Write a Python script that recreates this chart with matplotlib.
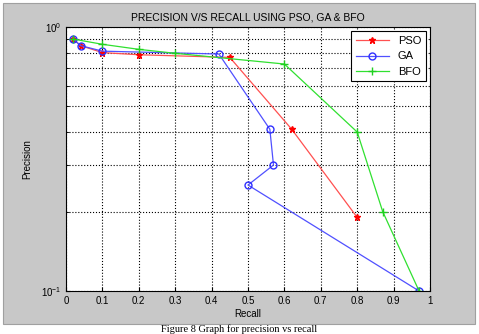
import matplotlib.pyplot as plt
from matplotlib.patches import Rectangle
from matplotlib.ticker import LogLocator, NullFormatter

plt.rcParams['font.family'] = ['Liberation Sans', 'DejaVu Sans']

# Données
recall_pso = [0.02, 0.04, 0.1, 0.2, 0.45, 0.62, 0.8]
prec_pso = [0.9, 0.85, 0.8, 0.785, 0.767, 0.41, 0.19]

recall_ga = [0.02, 0.04, 0.1, 0.42, 0.56, 0.57, 0.5, 0.97]
prec_ga = [0.9, 0.85, 0.81, 0.79, 0.41, 0.30, 0.252, 0.1]

recall_bfo = [0.02, 0.1, 0.2, 0.3, 0.6, 0.8, 0.87, 0.97]
prec_bfo = [0.9, 0.86, 0.823, 0.795, 0.724, 0.40, 0.2, 0.1]

xticks = [0, 0.1, 0.2, 0.3, 0.4, 0.5, 0.6, 0.7, 0.8, 0.9, 1]

fig = plt.figure(figsize=(4.79, 3.34), dpi=100)
fig.patch.set_facecolor('white')
# fond gris façon MATLAB
fig.patches.append(Rectangle((3 / 479, 1 - 324 / 334), 472 / 479, 321 / 334,
                             transform=fig.transFigure, facecolor='#c8c8c8',
                             edgecolor='#a0a0a0', lw=0.8, zorder=-5))

ax = fig.add_axes([66 / 479, 1 - 291 / 334, 364 / 479, 264 / 334])
ax.set_zorder(1)
ax.set_yscale('log')

ax.plot(recall_pso, prec_pso, '-', color='#ff5050', lw=0.9, marker='*',
        markersize=5, markeredgecolor='red', markerfacecolor='red', label='PSO')
ax.plot(recall_ga, prec_ga, '-', color='#5050ff', lw=0.9, marker='o',
        markersize=5, markerfacecolor='none', markeredgecolor='#3030ff', label='GA')
ax.plot(recall_bfo, prec_bfo, '-', color='#30e030', lw=0.9, marker='+',
        markersize=6, markeredgecolor='#20d020', label='BFO')

ax.set_xlim(0, 1)
ax.set_ylim(0.1, 1)
ax.set_xticks(xticks)
ax.set_xticklabels([f'{t:g}' for t in xticks])
ax.yaxis.set_minor_locator(LogLocator(base=10, subs=range(2, 10)))
ax.yaxis.set_minor_formatter(NullFormatter())
ax.tick_params(labelsize=7, direction='in', length=3)
ax.tick_params(which='minor', direction='in', length=2)

ax.grid(True, which='major', linestyle=':', color='black', lw=0.8)
ax.grid(True, which='minor', axis='y', linestyle=':', color='black', lw=0.8)

ax.set_xlabel('Recall', fontsize=7, labelpad=2)
ax.set_ylabel('Precision', fontsize=7, labelpad=6)
ax.set_title('PRECISION V/S RECALL USING PSO, GA & BFO', fontsize=7.5, pad=5)

leg = ax.legend(loc='upper right', fontsize=8, fancybox=False, framealpha=1,
                edgecolor='black', borderaxespad=0.4, handlelength=3)
leg.get_frame().set_linewidth(0.8)

fig.text(0.5, 0.5 / 334, 'Figure 8 Graph for precision vs recall',
         ha='center', va='bottom', fontsize=7.5, family='Liberation Serif')

fig.savefig('out.png', dpi=100)
